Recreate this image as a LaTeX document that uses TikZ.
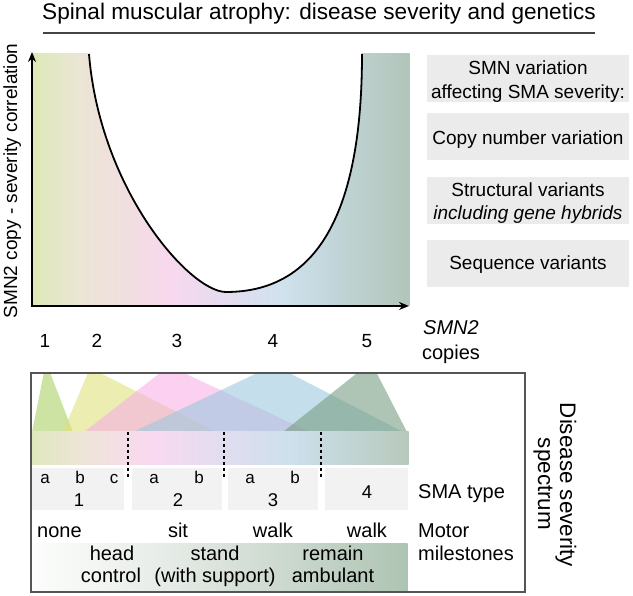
\documentclass[tikz,border=0pt]{standalone}
\usepackage{fontspec}
\setmainfont{Liberation Sans}
\usetikzlibrary{arrows.meta}
% top plot gradient
\definecolor{c0}{HTML}{DDE9B8}
\definecolor{c1}{HTML}{E9E6D3}
\definecolor{c2}{HTML}{EFE1DC}
\definecolor{c3}{HTML}{F4DBE6}
\definecolor{c4}{HTML}{F8D8EF}
\definecolor{c5}{HTML}{E4DCEF}
\definecolor{c6}{HTML}{CFE2EE}
\definecolor{c7}{HTML}{C2D6DA}
\definecolor{c8}{HTML}{B2C5B9}
% bottom band gradient
\definecolor{b0}{HTML}{DFE8BF}
\definecolor{b1}{HTML}{EDE5D6}
\definecolor{b2}{HTML}{F9D9F1}
\definecolor{b3}{HTML}{E3DDF0}
\definecolor{b4}{HTML}{CDE0EC}
\definecolor{b5}{HTML}{B7C9BC}
% milestones gradient
\definecolor{m0}{HTML}{FCFDFC}
\definecolor{m1}{HTML}{F2F5F2}
\definecolor{m2}{HTML}{DFE6E0}
\definecolor{m3}{HTML}{C8D6CB}
\definecolor{m4}{HTML}{AEC4B3}
% triangles
\definecolor{trG}{HTML}{ACD066}
\definecolor{trY}{HTML}{DFE17B}
\definecolor{trP}{HTML}{F8B1E6}
\definecolor{trB}{HTML}{9DC8DF}
\definecolor{trS}{HTML}{789D82}
\definecolor{boxgray}{HTML}{EBEBEB}
\definecolor{cellgray}{HTML}{F2F2F2}
\definecolor{framegray}{HTML}{555555}
\definecolor{ulgray}{HTML}{444444}
\begin{document}
\begin{tikzpicture}[x=1pt,y=-1pt,
  base/.style={inner sep=0pt, anchor=base},
  ttl/.style={base, font=\fontsize{22.6}{27}\selectfont},
  f17/.style={base, font=\fontsize{17}{20}\selectfont},
  f18/.style={base, font=\fontsize{18.5}{22}\selectfont},
  f19/.style={base, font=\fontsize{19}{24}\selectfont},
  f20/.style={base, font=\fontsize{20}{24}\selectfont},
  f22/.style={base, font=\fontsize{22.4}{26}\selectfont},
  graybox/.style={fill=boxgray, minimum width=202pt, minimum height=47pt, inner sep=0pt},
  cell/.style={fill=cellgray, minimum height=42pt, inner sep=0pt},
  axis/.style={line width=1.8pt, arrows={Stealth[length=10pt,width=8pt]-Stealth[length=10pt,width=8pt]}},
  curve/.style={line width=1.8pt},
  dotline/.style={line width=1.8pt, dash pattern=on 3pt off 3pt},
  tri/.style={fill opacity=0.6},
  frame/.style={draw=framegray, line width=1.2pt, inner sep=0pt},
]
\useasboundingbox (0,0) rectangle (633,596);

% ---------- title ----------
\node[ttl] (title) at (319,20) {Spinal muscular atrophy: disease severity and genetics};
\draw[ulgray, line width=1.4pt] (43,33) -- (595,33);

% ---------- top plot ----------
\foreach \xa/\xb/\ca/\cb in {32/75/c0/c1,75/110/c1/c2,110/150/c2/c3,150/168/c3/c4,168/226/c4/c5,226/283/c5/c6,283/330/c6/c7,330/409/c7/c8}
  \shade[left color=\ca,right color=\cb] (\xa,54) rectangle ({\xb+0.5},306);
\coordinate (cL) at (89,54);
\coordinate (cM) at (226,292);
\coordinate (cR) at (362,54);
\fill[white] (89,52) -- (cL) .. controls (100,190) and (190,292) .. (cM)
  .. controls (310,292) and (362,225) .. (cR) -- (362,52) -- cycle;
\draw[curve] (cL) .. controls (100,190) and (190,292) .. (cM)
  .. controls (310,292) and (362,225) .. (cR);
\coordinate (Ytop) at (32,52);
\coordinate (O) at (32,306);
\coordinate (Xend) at (409,306);
\draw[axis] (Ytop) -- (O) -- (Xend);

\node[f19, rotate=90] (ylabel) at (17,181) {SMN2 copy - severity correlation};
\node[f19] (n1) at (45,348) {1};
\node[f19] (n2) at (97,348) {2};
\node[f19] (n3) at (177,348) {3};
\node[f19] (n4) at (273,348) {4};
\node[f19] (n5) at (367,348) {5};
\node[f20] (smn) at (451,335) {\itshape SMN2};
\node[f20] (copies) at (451,360) {copies};

% ---------- right boxes ----------
\node[graybox] (box1) at (528,78.5) {};
\node[graybox] (box2) at (528,136.5) {};
\node[graybox] (box3) at (528,201) {};
\node[graybox] (box4) at (528,263.5) {};
\node[f19] (b1a) at (528,75) {SMN variation};
\node[f19] (b1b) at (528,99) {affecting SMA severity:};
\node[f19] (b2a) at (528,145) {Copy number variation};
\node[f19] (b3a) at (528,197) {Structural variants};
\node[f19] (b3b) at (528,220) {\itshape including gene hybrids};
\node[f19] (b4a) at (528,270) {Sequence variants};

% ---------- bottom panel ----------
\begin{scope}
  \clip (32,373) rectangle (408,432);
  \fill[tri, fill=trG] (32,432) -- (46,362) -- (73,432) -- cycle;
  \fill[tri, fill=trY] (63,432) -- (90,368) -- (217,432) -- cycle;
  \fill[tri, fill=trP] (84,432) -- (169,366) -- (310,432) -- cycle;
  \fill[tri, fill=trB] (133,432) -- (274,365) -- (403,432) -- cycle;
  \fill[tri, fill=trS] (283,432) -- (371,362) -- (407,432) -- cycle;
\end{scope}
\foreach \xa/\xb/\ca/\cb in {32/80/b0/b1,80/150/b1/b2,150/220/b2/b3,220/290/b3/b4,290/408/b4/b5}
  \shade[left color=\ca,right color=\cb] (\xa,432) rectangle ({\xb+0.5},465);

\node[cell, minimum width=93pt] (cell1) at (77.5,489) {};
\node[cell, minimum width=90pt] (cell2) at (177,489) {};
\node[cell, minimum width=90pt] (cell3) at (273,489) {};
\node[cell, minimum width=83pt] (cell4) at (366.5,489) {};

\coordinate (d1t) at (128,432); \coordinate (d1b) at (128,478);
\coordinate (d2t) at (224,432); \coordinate (d2b) at (224,478);
\coordinate (d3t) at (321,432); \coordinate (d3b) at (321,478);
\draw[dotline] (d1t) -- (d1b);
\draw[dotline] (d2t) -- (d2b);
\draw[dotline] (d3t) -- (d3b);

\foreach \xa/\xb/\ca/\cb in {31/100/m0/m1,100/200/m1/m2,200/300/m2/m3,300/407/m3/m4}
  \shade[left color=\ca,right color=\cb] (\xa,544) rectangle ({\xb+0.5},592);

\node[frame, minimum width=494pt, minimum height=219pt] (panel) at (278,482.5) {};

% SMA type letters / numbers
\node[f17] (t1a) at (45,484) {a};
\node[f17] (t1b) at (80,484) {b};
\node[f17] (t1c) at (114,484) {c};
\node[f17] (t2a) at (154,484) {a};
\node[f17] (t2b) at (199,484) {b};
\node[f17] (t3a) at (250,484) {a};
\node[f17] (t3b) at (295,484) {b};
\node[f18] (t1) at (79,507) {1};
\node[f18] (t2) at (178,507) {2};
\node[f18] (t3) at (273,507) {3};
\node[f18] (t4) at (367,499) {4};
\node[f20, anchor=base west] (smatype) at (418,499) {SMA type};

% motor milestones
\node[f20, anchor=base west] (none) at (37,537) {none};
\node[f20] (sit) at (178,537) {sit};
\node[f20] (walk3) at (273,537) {walk};
\node[f20] (walk4) at (367,537) {walk};
\node[f20, anchor=base west] (motor) at (418,537) {Motor};
\node[f20, anchor=base west] (miles) at (418,561) {milestones};
\node[f20] (head) at (112,561) {head};
\node[f20] (control) at (111,583) {control};
\node[f20] (stand) at (215,561) {stand};
\node[f20] (support) at (215,583) {(with support)};
\node[f20] (remain) at (333,561) {remain};
\node[f20] (ambulant) at (333,583) {ambulant};

% side label
\node[f22, rotate=-90] (dss1) at (560,485) {Disease severity};
\node[f22, rotate=-90] (dss2) at (538,484) {spectrum};
\end{tikzpicture}
\end{document}
